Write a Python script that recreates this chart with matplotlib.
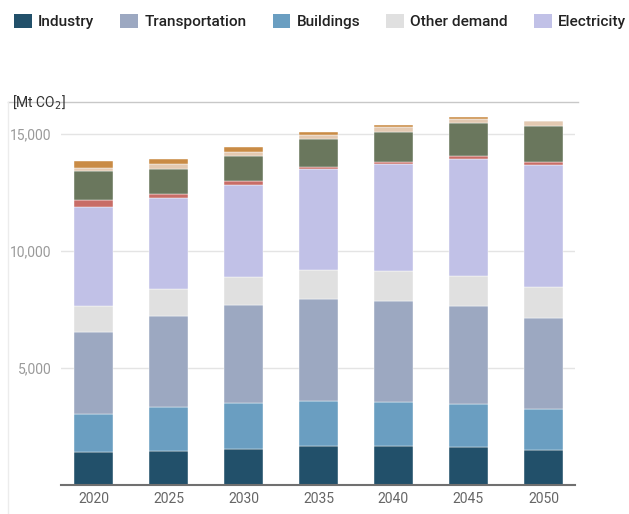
import matplotlib
matplotlib.use("Agg")
import matplotlib.pyplot as plt
import numpy as np
from matplotlib.lines import Line2D
from matplotlib.patches import Patch
from matplotlib.ticker import FuncFormatter

plt.rcParams["font.family"] = ["Roboto", "DejaVu Sans"]

years = ["2020", "2025", "2030", "2035", "2040", "2045", "2050"]

# Mt CO2 per sector (stack order bottom -> top)
industry = [1410, 1470, 1525, 1670, 1670, 1610, 1500]
buildings = [1615, 1850, 1970, 1910, 1880, 1840, 1750]
transportation = [3505, 3905, 4190, 4375, 4335, 4220, 3890]
other_demand = [1125, 1140, 1200, 1225, 1285, 1285, 1325]
electricity = [4215, 3890, 3920, 4310, 4535, 4975, 5205]
# extra supply-side segments (no legend entry in the reference)
seg_red = [310, 200, 170, 100, 110, 115, 140]
seg_green = [1240, 1070, 1095, 1185, 1270, 1425, 1540]
seg_beige = [135, 185, 160, 170, 200, 170, 190]
seg_orange = [275, 215, 200, 155, 85, 85, 15]

stack = [
    ("Industry", industry, "#22506a"),
    ("Buildings", buildings, "#6a9ec1"),
    ("Transportation", transportation, "#9ca8c1"),
    ("Other demand", other_demand, "#e0e0e0"),
    ("Electricity", electricity, "#c1c1e7"),
    ("_red", seg_red, "#c86d67"),
    ("_green", seg_green, "#6a775d"),
    ("_beige", seg_beige, "#e3c9b1"),
    ("_orange", seg_orange, "#c98b45"),
]
legend_order = ["Industry", "Transportation", "Buildings", "Other demand", "Electricity"]

fig = plt.figure(figsize=(6.29, 5.14), dpi=100)
ax = fig.add_axes([0.097, 0.0564, 0.817, 0.745])

x = np.arange(len(years))
bottom = np.zeros(len(years))
colors = {}
for name, vals, col in stack:
    vals = np.array(vals, dtype=float)
    ax.bar(x, vals, 0.52, bottom=bottom, color=col, edgecolor="white",
           linewidth=0.3, zorder=3)
    bottom += vals
    colors[name] = col

ax.set_xlim(-0.433, 6.42)
ax.set_ylim(0, 16370)
ax.set_yticks([5000, 10000, 15000])
ax.yaxis.set_major_formatter(FuncFormatter(lambda v, p: f"{int(v):,}"))
ax.set_xticks(x)
ax.set_xticklabels(years)
ax.tick_params(axis="y", length=0, pad=7, labelsize=10, labelcolor="#9a9a9a")
ax.tick_params(axis="x", length=0, pad=5, labelsize=10, labelcolor="#666666")
ax.grid(axis="y", color="#e4e4e4", linewidth=1, zorder=0)
for s in ["top", "right", "left"]:
    ax.spines[s].set_visible(False)
ax.spines["bottom"].set_color("#707070")
ax.spines["bottom"].set_linewidth(1.5)
ax.spines["bottom"].set_zorder(4)

# frame lines around the chart block
W, H = 629, 514
fig.add_artist(Line2D([8 / W, 578 / W], [1 - 102 / H] * 2, color="#c8c8c8", lw=1))
fig.add_artist(Line2D([8 / W] * 2, [0, 1 - 102 / H], color="#ececec", lw=1))
fig.text(12 / W, 1 - 102 / H, "[Mt CO$_2$]", fontsize=10, color="#333333",
         va="center", ha="left")

handles = [Patch(facecolor=colors[n], edgecolor="none", label=n) for n in legend_order]
fig.legend(handles=handles, loc="center left", bbox_to_anchor=(14 / W, 1 - 21.5 / H),
           ncol=5, frameon=False, borderpad=0, borderaxespad=0,
           handlelength=1.15, handleheight=1.1,
           handletextpad=0.4, columnspacing=1.7,
           prop={"size": 11.1, "weight": "medium"}, labelcolor="#222222")

fig.savefig("out.png", dpi=100)
